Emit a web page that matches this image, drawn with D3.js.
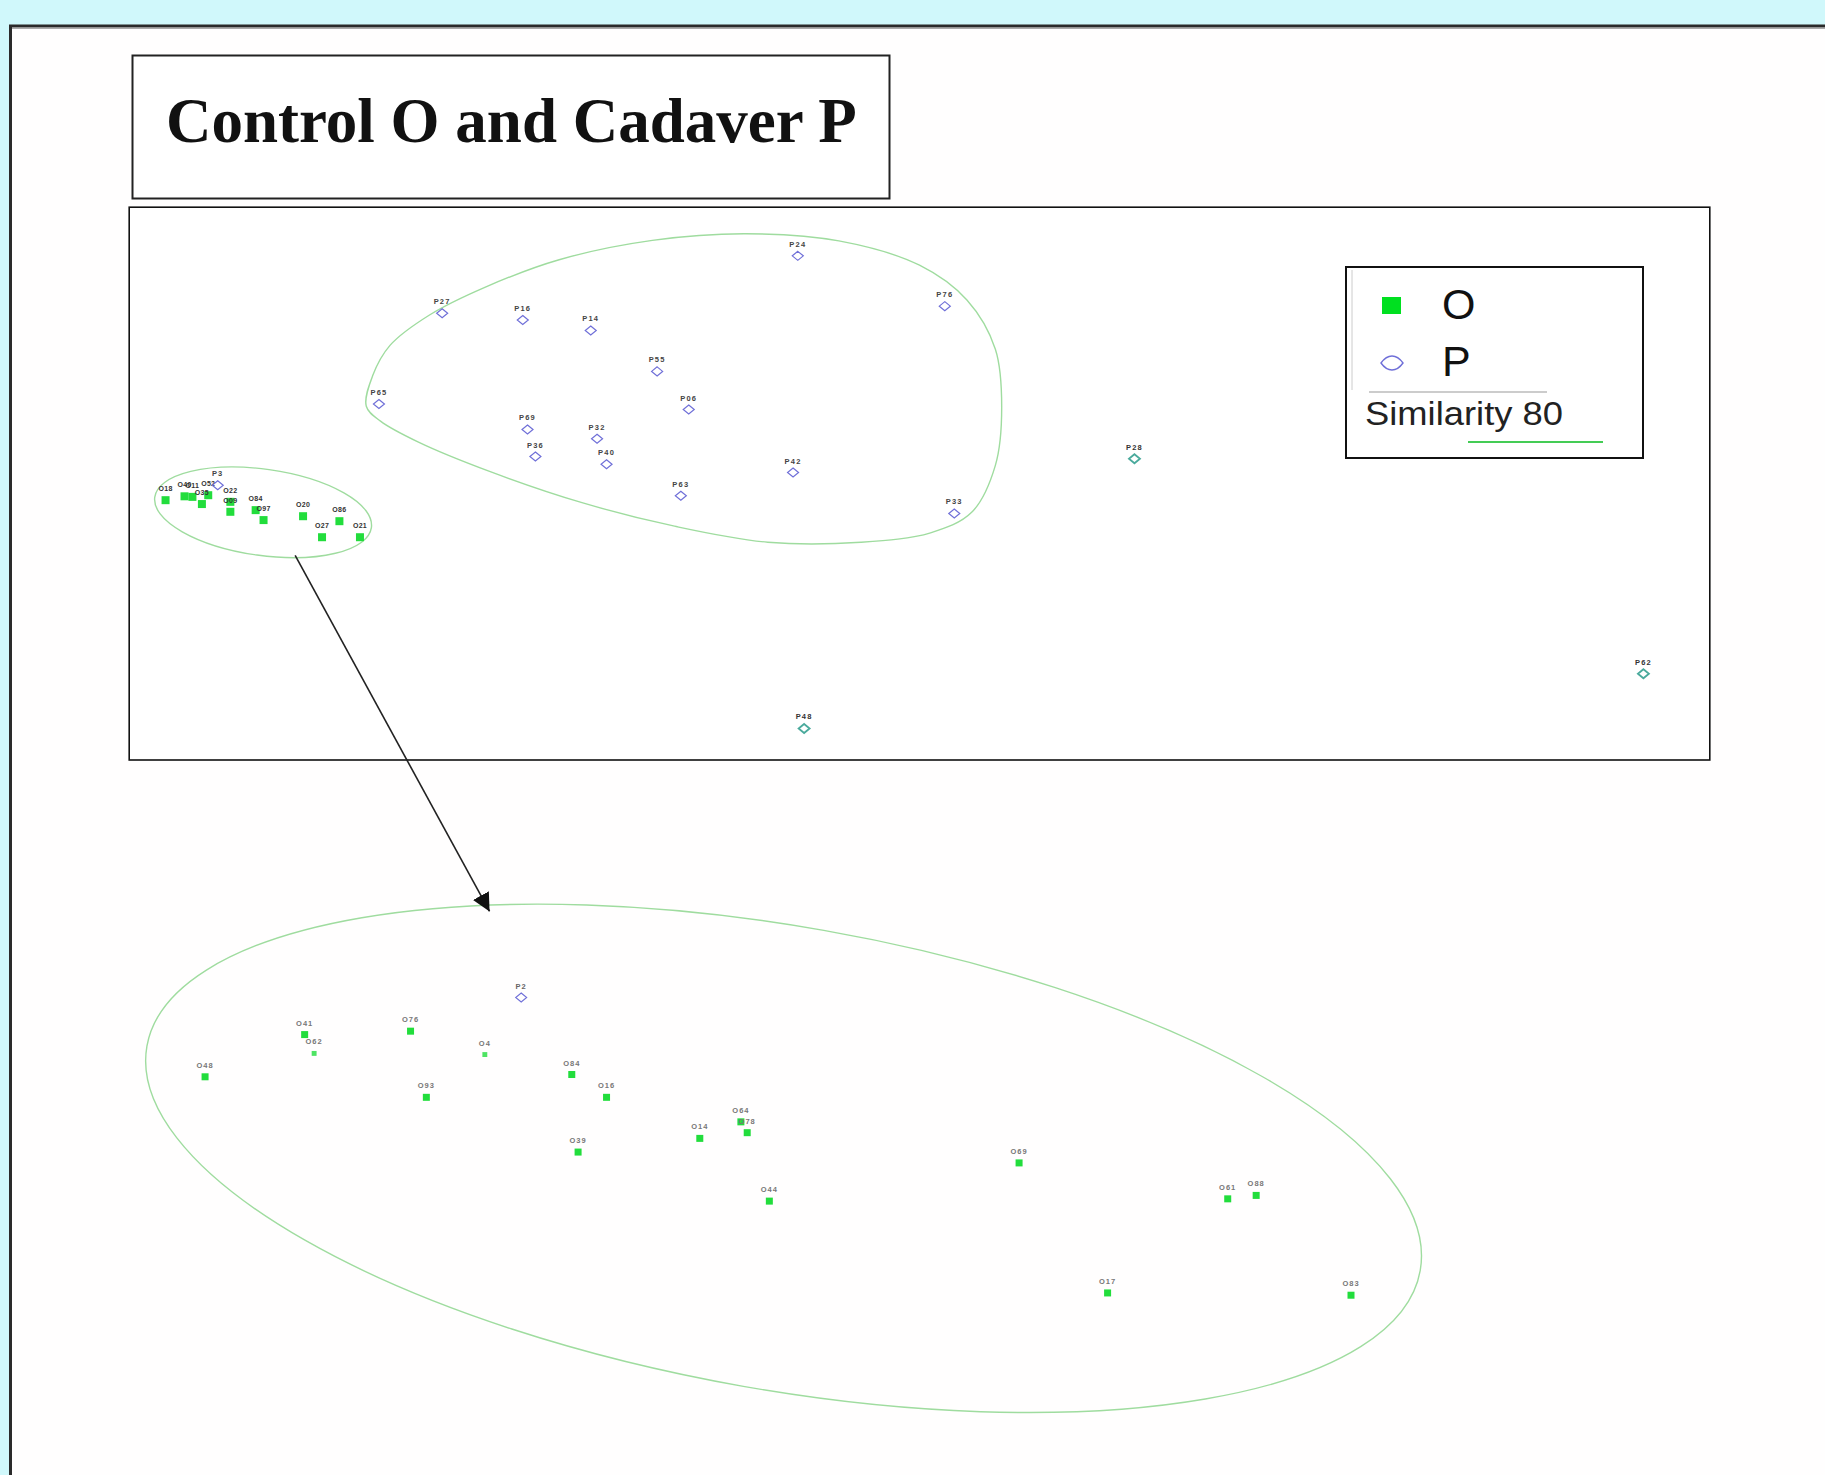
<!DOCTYPE html>
<html>
<head>
<meta charset="utf-8">
<script src="https://cdn.jsdelivr.net/npm/d3@7"></script>
<style>
  html, body { margin: 0; padding: 0; background: #d0f8fb; }
  svg { display: block; }
</style>
</head>
<body>
<svg id="chart" width="1825" height="1475"></svg>
<script>
// ---------------- DATA (MDS coordinates, 0-100 units) ----------------
const titleText = "Control O and Cadaver P";
const legendLabels = ["O", "P"];
const similarityLabel = "Similarity 80";

// upper (overview) panel — cadaver P samples
const upperP = [
  {id: "P24", x: 42.3, y: 91.2}, {id: "P27", x: 19.8, y: 80.8},
  {id: "P16", x: 24.9, y: 79.6}, {id: "P14", x: 29.2, y: 77.7},
  {id: "P76", x: 51.6, y: 82.1}, {id: "P55", x: 33.4, y: 70.3},
  {id: "P65", x: 15.8, y: 64.4}, {id: "P06", x: 35.4, y: 63.4},
  {id: "P69", x: 25.2, y: 59.8}, {id: "P32", x: 29.6, y: 58.1},
  {id: "P36", x: 25.7, y: 54.9}, {id: "P40", x: 30.2, y: 53.5},
  {id: "P42", x: 42.0, y: 52.0}, {id: "P63", x: 34.9, y: 47.8},
  {id: "P33", x: 52.2, y: 44.6}, {id: "P3",  x: 5.6,  y: 49.7}
];
// upper panel P outliers (overlapping a second symbol)
const upperPOut = [
  {id: "P28", x: 63.6, y: 54.5}, {id: "P48", x: 42.7, y: 5.7},
  {id: "P62", x: 95.8, y: 15.6}
];
// upper panel — control O samples
const upperO = [
  {id: "O18", x: 2.3,  y: 47.0}, {id: "O40", x: 3.5,  y: 47.7},
  {id: "O11", x: 4.0,  y: 47.6}, {id: "O35", x: 4.6,  y: 46.3},
  {id: "O52", x: 5.0,  y: 47.9}, {id: "O22", x: 6.4,  y: 46.7},
  {id: "O09", x: 6.4,  y: 44.9}, {id: "O84", x: 8.0,  y: 45.2},
  {id: "O97", x: 8.5,  y: 43.4}, {id: "O20", x: 11.0, y: 44.1},
  {id: "O27", x: 12.2, y: 40.3}, {id: "O86", x: 13.3, y: 43.2},
  {id: "O21", x: 14.6, y: 40.3}
];
// lower (zoomed) panel — control O samples
const lowerO = [
  {id: "O48", x: 4.8,  y: 66.3, s: 1}, {id: "O41", x: 11.1, y: 73.7, s: 1},
  {id: "O62", x: 11.7, y: 70.4, s: 0}, {id: "O76", x: 17.8, y: 74.3, s: 1},
  {id: "O4",  x: 22.5, y: 70.2, s: 0}, {id: "O93", x: 18.8, y: 62.7, s: 1},
  {id: "O84", x: 28.0, y: 66.7, s: 1}, {id: "O16", x: 30.2, y: 62.7, s: 1},
  {id: "O39", x: 28.4, y: 53.1, s: 1}, {id: "O14", x: 36.1, y: 55.5, s: 1},
  {id: "O64", x: 38.7, y: 58.4, s: 1}, {id: "O78", x: 39.1, y: 56.5, s: 1},
  {id: "O44", x: 40.5, y: 44.5, s: 1}, {id: "O69", x: 56.3, y: 51.2, s: 1},
  {id: "O61", x: 69.5, y: 44.9, s: 1}, {id: "O88", x: 71.3, y: 45.5, s: 1},
  {id: "O17", x: 61.9, y: 28.4, s: 1}, {id: "O83", x: 77.3, y: 28.0, s: 1}
];
const lowerP = [ {id: "P2", x: 24.8, y: 80.2} ];

// similarity-80 contour around the P group (upper panel)
const pContour = [
  [15.0,64.0],[15.4,69.5],[16.5,75.0],[19.0,80.5],[22.5,85.5],[27.2,90.5],
  [33.1,94.0],[39.0,95.2],[44.9,93.9],[50.0,89.5],[53.0,83.2],[54.8,74.3],
  [55.2,63.8],[54.8,53.3],[53.3,44.8],[50.7,41.1],[46.3,39.4],[40.4,39.4],
  [34.5,42.3],[28.7,46.5],[22.8,52.2],[18.3,57.5],[15.9,61.3]
];
// similarity-80 contour around the O group: centre, radii, tilt (deg)
const oContourUpper = {cx: 8.47, cy: 44.8, rx: 6.92, ry: 7.8, tilt: 8};
const oContourLower = {cx: 41.4, cy: 52.0, rx: 40.9, ry: 40.6, tilt: 10};
// zoom arrow: from upper-panel point to lower-panel point
const zoomArrow = {from: [10.5, 37.0], to: [22.8, 95.3]};

// ---------------- DRAWING ----------------
const svg = d3.select("#chart");
const W = 1825, H = 1475;

const xU = d3.scaleLinear().domain([0, 100]).range([129.2, 1709.8]);
const yU = d3.scaleLinear().domain([0, 100]).range([760, 207.2]);
const xL = d3.scaleLinear().domain([0, 100]).range([129.2, 1709.8]);
const yL = d3.scaleLinear().domain([0, 100]).range([1454.9, 884.6]);

const GREEN = "#22dd3c";
const BLUE = "#6f6fd8";
const CONTOUR = "#9fdc9f";

// page background + white panel
svg.append("rect").attr("width", W).attr("height", H).attr("fill", "#d0f8fb");
svg.append("rect").attr("x", 11).attr("y", 27).attr("width", W - 11).attr("height", H - 27).attr("fill", "#fffefe");
svg.append("line").attr("x1", 9).attr("x2", W).attr("y1", 26).attr("y2", 26).attr("stroke", "#2a2a2a").attr("stroke-width", 3);
svg.append("line").attr("x1", 12).attr("x2", W).attr("y1", 28.5).attr("y2", 28.5).attr("stroke", "#aaa").attr("stroke-width", 1);
svg.append("line").attr("x1", 10.5).attr("x2", 10.5).attr("y1", 25).attr("y2", H).attr("stroke", "#2a2a2a").attr("stroke-width", 3);

// title box
svg.append("rect").attr("x", 132.5).attr("y", 55.5).attr("width", 757).attr("height", 143)
  .attr("fill", "#fff").attr("stroke", "#222").attr("stroke-width", 2);
svg.append("text").attr("x", 166).attr("y", 142)
  .attr("font-family", "'Liberation Serif', 'Times New Roman', serif")
  .attr("font-weight", "bold").attr("font-size", 63).attr("fill", "#111")
  .text(titleText);

// upper plot frame
svg.append("rect").attr("x", xU(0)).attr("y", yU(100))
  .attr("width", xU(100) - xU(0)).attr("height", yU(0) - yU(100))
  .attr("fill", "#fff").attr("stroke", "#111").attr("stroke-width", 1.6);

// contours
const pLine = d3.line().x(d => xU(d[0])).y(d => yU(d[1])).curve(d3.curveCatmullRomClosed.alpha(0.5));
svg.append("path").attr("d", pLine(pContour)).attr("fill", "none")
  .attr("stroke", CONTOUR).attr("stroke-width", 1.4);

function drawEllipse(e, xs, ys) {
  const cx = xs(e.cx), cy = ys(e.cy);
  const rx = xs(e.cx + e.rx) - cx;
  const ry = ys(e.cy - e.ry) - cy;
  svg.append("ellipse").attr("cx", cx).attr("cy", cy).attr("rx", rx).attr("ry", ry)
    .attr("transform", `rotate(${e.tilt},${cx},${cy})`)
    .attr("fill", "none").attr("stroke", CONTOUR).attr("stroke-width", 1.4);
}
drawEllipse(oContourUpper, xU, yU);
drawEllipse(oContourLower, xL, yL);

// markers
const diamond = "M0,-4.5 L5.5,0 L0,4.5 L-5.5,0 Z";
const labelFont = "'Liberation Sans', Arial, sans-serif";

function drawO(data, xs, ys, size, labelColor, dy, fs, ls) {
  const g = svg.append("g");
  g.selectAll("rect").data(data).join("rect")
    .attr("x", d => xs(d.x) - (d.s === 0 ? size * 0.35 : size / 2))
    .attr("y", d => ys(d.y) - (d.s === 0 ? size * 0.35 : size / 2))
    .attr("width", d => d.s === 0 ? size * 0.7 : size)
    .attr("height", d => d.s === 0 ? size * 0.7 : size)
    .attr("fill", GREEN).attr("opacity", d => d.s === 0 ? 0.8 : 1);
  g.selectAll("text").data(data).join("text")
    .attr("x", d => xs(d.x)).attr("y", d => ys(d.y) - dy)
    .attr("text-anchor", "middle").attr("font-family", labelFont)
    .attr("font-size", fs).attr("font-weight", "bold").attr("letter-spacing", ls)
    .attr("fill", labelColor).text(d => d.id);
}
function drawP(data, xs, ys, stroke, labelColor, dy, sw) {
  const g = svg.append("g");
  g.selectAll("path").data(data).join("path")
    .attr("d", diamond)
    .attr("transform", d => `translate(${xs(d.x)},${ys(d.y)})`)
    .attr("fill", "none").attr("stroke", stroke).attr("stroke-width", sw);
  g.selectAll("text").data(data).join("text")
    .attr("x", d => xs(d.x)).attr("y", d => ys(d.y) - dy)
    .attr("text-anchor", "middle").attr("font-family", labelFont)
    .attr("font-size", 7.5).attr("font-weight", "bold").attr("letter-spacing", 1.2)
    .attr("fill", labelColor).text(d => d.id);
}

drawO(upperO, xU, yU, 8, "#333", 9, 7, 0.3);
drawP(upperP, xU, yU, BLUE, "#444", 9, 1.2);
drawP(upperPOut, xU, yU, "#4aaa9c", "#333", 9, 1.8);
drawO(lowerO, xL, yL, 7, "#777", 9, 7.5, 1);
drawP(lowerP, xL, yL, BLUE, "#666", 9, 1.1);

// zoom arrow
const defs = svg.append("defs");
defs.append("marker").attr("id", "ah").attr("viewBox", "0 0 10 10")
  .attr("refX", 10).attr("refY", 5).attr("markerWidth", 18).attr("markerHeight", 18)
  .attr("markerUnits", "userSpaceOnUse").attr("orient", "auto")
  .append("path").attr("d", "M0,0 L10,5 L0,10 Z").attr("fill", "#111");
svg.append("line")
  .attr("x1", xU(zoomArrow.from[0])).attr("y1", yU(zoomArrow.from[1]))
  .attr("x2", xL(zoomArrow.to[0])).attr("y2", yL(zoomArrow.to[1]))
  .attr("stroke", "#222").attr("stroke-width", 1.6).attr("marker-end", "url(#ah)");

// legend
const lg = svg.append("g");
lg.append("rect").attr("x", 1346).attr("y", 267).attr("width", 297).attr("height", 191)
  .attr("fill", "#fff").attr("stroke", "#111").attr("stroke-width", 2);
lg.append("line").attr("x1", 1352).attr("x2", 1352).attr("y1", 270).attr("y2", 390)
  .attr("stroke", "#ccc").attr("stroke-width", 1);
lg.append("rect").attr("x", 1382).attr("y", 297).attr("width", 19).attr("height", 17).attr("fill", "#00e020");
lg.append("path").attr("d", "M-11,0 Q-6,-7 0,-7 Q6,-7 11,0 Q6,7 0,7 Q-6,7 -11,0 Z")
  .attr("transform", "translate(1392,363)")
  .attr("fill", "none").attr("stroke", BLUE).attr("stroke-width", 1.4);
lg.selectAll("text.lab").data(legendLabels).join("text").attr("class", "lab")
  .attr("x", 1442).attr("y", (d, i) => 319 + i * 57)
  .attr("font-family", labelFont).attr("font-size", 43).attr("fill", "#111").text(d => d);
lg.append("line").attr("x1", 1369).attr("x2", 1547).attr("y1", 392).attr("y2", 392)
  .attr("stroke", "#999").attr("stroke-width", 1);
lg.append("text").attr("x", 1365).attr("y", 425)
  .attr("font-family", labelFont).attr("font-size", 33).attr("fill", "#222")
  .attr("textLength", 198).attr("lengthAdjust", "spacingAndGlyphs").text(similarityLabel);
lg.append("line").attr("x1", 1468).attr("x2", 1603).attr("y1", 442).attr("y2", 442)
  .attr("stroke", "#44cc55").attr("stroke-width", 2);
</script>
</body>
</html>
